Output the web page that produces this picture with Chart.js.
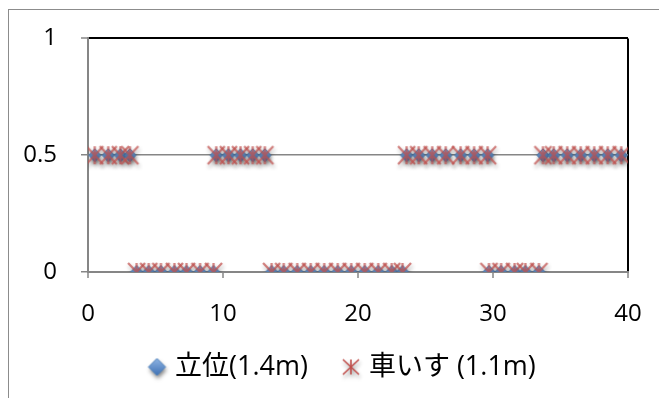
<!DOCTYPE html>
<html>
<head>
<meta charset="utf-8">
<script src="https://cdn.jsdelivr.net/npm/chart.js@4/dist/chart.umd.min.js"></script>
<style>
  html, body { margin: 0; padding: 0; background: #fff; }
  #wrap { position: relative; width: 659px; height: 398px; overflow: hidden; }
  #frame { position: absolute; left: 8px; top: 9px; width: 720px; height: 460px;
           border: 1.5px solid #8c8c8c; box-sizing: border-box; }
  canvas { position: absolute; left: 0; top: 0; }
</style>
</head>
<body>
<div id="wrap">
  <div id="frame"></div>
  <canvas id="chart" width="659" height="398"></canvas>
</div>
<script>
// Observation times (x) and recorded level (y) for each posture
const standingX = [0.5, 1.5, 2.4, 3.1,
  3.6, 4.5, 5.4, 6.4, 7.3, 8.3, 9.3,
  9.5, 10.4, 11.3, 12.2, 13.1,
  13.6, 14.5, 15.5, 16.5, 17.5, 18.5, 19.5, 20.5, 21.5, 22.5, 23.3,
  23.6, 24.5, 25.5, 26.5, 27.6, 28.6, 29.6,
  29.7, 30.6, 31.6, 32.4, 33.4,
  33.7, 34.5, 35.5, 36.5, 37.5, 38.5, 39.5];
const standingY = [0.5, 0.5, 0.5, 0.5,
  0, 0, 0, 0, 0, 0, 0,
  0.5, 0.5, 0.5, 0.5, 0.5,
  0, 0, 0, 0, 0, 0, 0, 0, 0, 0, 0,
  0.5, 0.5, 0.5, 0.5, 0.5, 0.5, 0.5,
  0, 0, 0, 0, 0,
  0.5, 0.5, 0.5, 0.5, 0.5, 0.5, 0.5];
const wheelchairX = [0.5, 1.5, 2.4, 3.1,
  3.6, 4.5, 5.4, 6.4, 7.3, 8.3, 9.3,
  9.5, 10.4, 11.3, 12.2, 13.1,
  13.6, 14.5, 15.5, 16.5, 17.5, 18.5, 19.5, 20.5, 21.5, 22.5, 23.3,
  23.6, 24.5, 25.5, 26.5, 27.6, 28.6, 29.6,
  29.7, 30.6, 31.6, 32.4, 33.4,
  33.7, 34.5, 35.5, 36.5, 37.5, 38.5, 39.5];
const wheelchairY = [0.5, 0.5, 0.5, 0.5,
  0, 0, 0, 0, 0, 0, 0,
  0.5, 0.5, 0.5, 0.5, 0.5,
  0, 0, 0, 0, 0, 0, 0, 0, 0, 0, 0,
  0.5, 0.5, 0.5, 0.5, 0.5, 0.5, 0.5,
  0, 0, 0, 0, 0,
  0.5, 0.5, 0.5, 0.5, 0.5, 0.5, 0.5];
const seriesLabels = ['立位(1.4m)', '車いす (1.1m)'];
const xTickValues = [0, 10, 20, 30, 40];
const yTickValues = [0, 0.5, 1];

const FONT = "'Open Sans', 'Noto Sans CJK JP', sans-serif";
const TICK_SIZE = 24;
const KEY_SIZE = 27;
const PAD = { left: 8, right: 31, top: 35, bottom: 0 };
const PLOT_LEFT = 88;
const PLOT_BOTTOM = 272;
const H = 398;

// Blue diamond marker with a soft drop shadow
function diamondMarker(hw, hh) {
  const pad = 7;
  const c = document.createElement('canvas');
  c.width = Math.round((hw + pad) * 2);
  c.height = Math.round((hh + pad) * 2);
  const g = c.getContext('2d');
  const cx = c.width / 2, cy = c.height / 2;
  const path = () => {
    g.beginPath();
    g.moveTo(cx, cy - hh); g.lineTo(cx + hw, cy);
    g.lineTo(cx, cy + hh); g.lineTo(cx - hw, cy); g.closePath();
  };
  g.save();
  g.shadowColor = 'rgba(0,0,0,0.5)'; g.shadowBlur = 4; g.shadowOffsetX = 1; g.shadowOffsetY = 3;
  const grad = g.createLinearGradient(0, cy - hh, 0, cy + hh);
  grad.addColorStop(0, '#8fb4e3'); grad.addColorStop(1, '#3e71b4');
  path(); g.fillStyle = grad; g.fill();
  g.restore();
  path(); g.strokeStyle = '#4a7ebb'; g.lineWidth = 1; g.stroke();
  return c;
}

// Red star marker: an X crossed by a vertical bar
function starMarker(hw, hh, alpha, width) {
  const pad = 7;
  const c = document.createElement('canvas');
  c.width = Math.round((hw + pad) * 2);
  c.height = Math.round((hh + pad) * 2);
  const g = c.getContext('2d');
  const cx = c.width / 2, cy = c.height / 2;
  g.shadowColor = 'rgba(0,0,0,0.4)'; g.shadowBlur = 4; g.shadowOffsetX = 1; g.shadowOffsetY = 3;
  g.strokeStyle = 'rgba(192,80,77,' + alpha + ')';
  g.lineWidth = width; g.lineCap = 'butt';
  g.beginPath();
  g.moveTo(cx - hw, cy - hh); g.lineTo(cx + hw, cy + hh);
  g.moveTo(cx + hw, cy - hh); g.lineTo(cx - hw, cy + hh);
  g.moveTo(cx, cy - hh); g.lineTo(cx, cy + hh);
  g.stroke();
  return c;
}

const plotMarkers = [diamondMarker(6, 6.5), starMarker(8.5, 9, 0.72, 2.3)];
const keyMarkers = [diamondMarker(8.5, 8.5), starMarker(8, 7.5, 1, 1.6)];

const toPoints = (xs, ys) => xs.map((x, i) => ({ x: x, y: ys[i] }));

// Series key below the axis: marker, then label, items side by side
const seriesKey = {
  id: 'seriesKey',
  afterDraw(chart) {
    const ctx = chart.ctx;
    const y = 367;
    ctx.save();
    ctx.font = KEY_SIZE + 'px ' + FONT;
    ctx.fillStyle = '#000';
    ctx.textBaseline = 'middle';
    ctx.textAlign = 'left';
    let x = 148;
    chart.data.datasets.forEach((ds, i) => {
      const m = keyMarkers[i];
      ctx.drawImage(m, x + 9 - m.width / 2, y - m.height / 2);
      ctx.fillText(ds.label, x + 27, y);
      x += 27 + ctx.measureText(ds.label).width + 34;
    });
    ctx.restore();
  }
};

new Chart(document.getElementById('chart'), {
  type: 'scatter',
  data: {
    datasets: [
      { label: seriesLabels[0], data: toPoints(standingX, standingY),
        pointStyle: plotMarkers[0], pointRadius: 6, pointHoverRadius: 6, order: 1 },
      { label: seriesLabels[1], data: toPoints(wheelchairX, wheelchairY),
        pointStyle: plotMarkers[1], pointRadius: 8, pointHoverRadius: 8, order: 0 }
    ]
  },
  options: {
    responsive: false,
    animation: false,
    devicePixelRatio: 1,
    layout: { padding: PAD },
    events: [],
    plugins: {
      tooltip: { enabled: false },
      legend: { display: false }
    },
    scales: {
      x: {
        type: 'linear', min: 0, max: 40,
        afterBuildTicks: s => { s.ticks = xTickValues.map(v => ({ value: v })); },
        afterFit: s => {
          s.height = H - PAD.bottom - PLOT_BOTTOM;
          s.paddingLeft = 0;
          s.paddingRight = 0;
        },
        ticks: { color: '#000', font: { family: FONT, size: TICK_SIZE }, padding: 22, maxRotation: 0,
                 callback: v => String(v) },
        grid: {
          color: c => (c.tick && c.tick.value === 40) ? '#000' : 'rgba(0,0,0,0)',
          lineWidth: 2, tickColor: '#868686', tickLength: 6, tickWidth: 1.5
        },
        border: { color: '#868686', width: 2 }
      },
      y: {
        min: 0, max: 1,
        afterBuildTicks: s => { s.ticks = yTickValues.map(v => ({ value: v })); },
        afterFit: s => { s.width = PLOT_LEFT - PAD.left; },
        ticks: { color: '#000', font: { family: FONT, size: TICK_SIZE }, padding: 24,
                 callback: v => String(v) },
        grid: {
          color: c => (c.tick && c.tick.value === 1) ? '#000' : '#868686',
          lineWidth: c => (c.tick && c.tick.value === 1) ? 2 : 1.5,
          tickColor: '#868686', tickLength: 7, tickWidth: 1.5
        },
        border: { color: '#868686', width: 2 }
      }
    }
  },
  plugins: [seriesKey]
});
</script>
</body>
</html>
